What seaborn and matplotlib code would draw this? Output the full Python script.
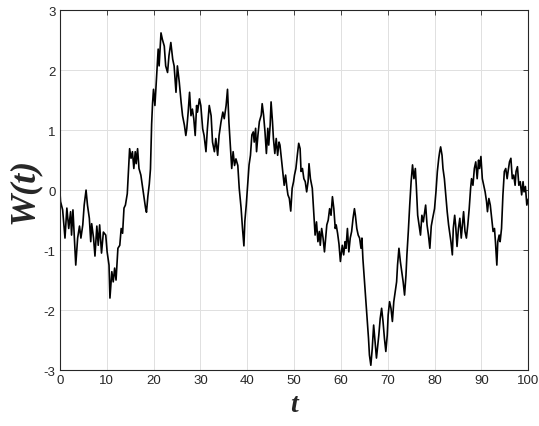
import matplotlib
matplotlib.use("Agg")
import matplotlib.pyplot as plt
import seaborn as sns
import pandas as pd

# Brownian path W(t)
t_vals = [
    0.0, 0.15, 0.6, 1.1, 1.5, 1.9, 2.3, 2.5, 2.8, 3.4, 3.8, 4.2, 4.5, 4.9, 5.2, 5.6, 5.9,
    6.3, 6.6, 6.8, 7.2, 7.5, 7.9, 8.2, 8.5, 8.9, 9.3, 9.8, 10.1, 10.5, 10.7, 11.1, 11.4,
    11.7, 12.0, 12.4, 12.8, 13.1, 13.4, 13.7, 14.0, 14.4, 14.6, 14.9, 15.2, 15.5, 15.8,
    16.1, 16.3, 16.6, 16.9, 17.3, 17.7, 18.0, 18.3, 18.5, 18.8, 19.1, 19.35, 19.6, 19.8,
    20.0, 20.3, 20.7, 21.0, 21.2, 21.6, 21.9, 22.3, 22.6, 23.0, 23.3, 23.7, 24.1, 24.4,
    24.8, 25.1, 25.5, 25.9, 26.2, 26.6, 26.9, 27.1, 27.4, 27.7, 28.0, 28.3, 28.6, 28.9,
    29.2, 29.4, 29.8, 30.1, 30.5, 30.8, 31.2, 31.5, 31.9, 32.3, 32.6, 33.0, 33.3, 33.7,
    34.0, 34.4, 34.8, 35.1, 35.5, 35.8, 36.1, 36.4, 36.7, 37.0, 37.3, 37.6, 38.0, 38.3,
    38.7, 39.0, 39.3, 39.5, 39.8,
    40.1, 40.4, 40.7, 41.0, 41.3, 41.5, 41.8, 42.0, 42.3, 42.6, 43.0, 43.2, 43.5, 43.8,
    44.1, 44.4, 44.6, 44.9, 45.1, 45.4, 45.6, 45.9, 46.2, 46.5, 46.8, 47.0, 47.3, 47.6,
    47.9, 48.2, 48.5, 48.7, 49.0, 49.3, 49.6, 49.9, 50.1, 50.4, 50.7, 51.0, 51.3, 51.5,
    51.8, 52.1, 52.4, 52.7, 53.0, 53.2, 53.5, 53.9, 54.2, 54.5, 54.8, 55.1, 55.4, 55.6,
    55.9, 56.2, 56.5, 56.8, 57.0, 57.3, 57.6, 57.9, 58.2, 58.5, 58.8, 59.0, 59.3, 59.6,
    59.9,
    60.3, 60.6, 60.9, 61.1, 61.4, 61.7, 62.0, 62.3, 62.6, 62.9, 63.1, 63.4, 63.7, 64.0,
    64.3, 64.5, 64.7, 65.0, 65.3, 65.6, 65.9, 66.1, 66.4, 66.7, 67.0, 67.3, 67.6, 67.9,
    68.1, 68.4, 68.7, 69.0, 69.3, 69.6, 69.9, 70.1, 70.4, 70.7, 71.0, 71.3, 71.6, 71.9,
    72.1, 72.4, 72.7, 73.0, 73.3, 73.6, 73.9, 74.1, 74.4, 74.7, 75.0, 75.3, 75.6, 75.9,
    76.1, 76.4, 76.7, 77.0, 77.3, 77.6, 77.9, 78.1, 78.4, 78.7, 79.0, 79.3, 79.6, 80.0,
    80.3, 80.6, 80.9, 81.1, 81.3, 81.6, 81.8, 82.1, 82.4, 82.7, 83.0, 83.3, 83.5, 83.8,
    84.0, 84.3, 84.5, 84.8, 85.1, 85.4, 85.7, 86.0, 86.2, 86.5, 86.8, 87.1, 87.4, 87.7,
    87.9, 88.2, 88.5, 88.8, 89.1, 89.4, 89.6, 89.9, 90.2, 90.5, 90.8, 91.1, 91.3, 91.6,
    91.9, 92.2, 92.5, 92.8, 93.0, 93.3, 93.5, 93.8, 94.0, 94.3, 94.6, 94.9, 95.2, 95.5,
    95.7, 96.0, 96.3, 96.6, 96.9, 97.2, 97.4, 97.7, 98.0, 98.3, 98.6, 98.9, 99.1, 99.4,
    99.7, 100.0,
]
w_vals = [
    0.0, -0.19, -0.33, -0.8, -0.3, -0.64, -0.36, -0.75, -0.33, -1.25, -0.8, -0.6, -0.8,
    -0.58, -0.25, 0.0, -0.25, -0.47, -0.86, -0.56, -0.8, -1.1, -0.6, -0.92, -0.58, -1.05,
    -0.7, -0.75, -1.03, -1.25, -1.8, -1.36, -1.53, -1.3, -1.5, -0.97, -0.92, -0.64, -0.72,
    -0.3, -0.25, -0.06, 0.25, 0.69, 0.53, 0.64, 0.36, 0.64, 0.44, 0.69, 0.36, 0.25, 0.03,
    -0.14, -0.3, -0.37, -0.1, 0.1, 0.35, 1.1, 1.45,
    1.68, 1.41, 1.96, 2.35, 2.07, 2.62, 2.51, 2.4, 2.07, 1.96, 2.24, 2.46, 2.18, 2.07,
    1.63, 2.07, 1.8, 1.46, 1.24, 1.08, 0.91, 1.02, 1.3, 1.63, 1.24, 1.35, 1.19, 0.91,
    1.41, 1.3, 1.52, 1.41, 1.02, 0.91, 0.64, 1.02, 1.41, 1.24, 0.8, 0.64, 0.86, 0.58,
    0.91, 1.13, 1.3, 1.19, 1.41, 1.68, 1.13, 0.75, 0.36, 0.64, 0.41, 0.52, 0.41, 0.03,
    -0.3, -0.64, -0.93, -0.52, -0.25,
    0.08, 0.42, 0.58, 0.92, 0.97, 0.8, 1.03, 0.64, 0.92, 1.14, 1.25, 1.44, 1.25, 0.97,
    0.61, 1.03, 0.75, 1.08, 1.47, 1.14, 0.86, 0.61, 0.86, 0.58, 0.8, 0.75, 0.53, 0.31,
    0.08, 0.25, 0.03, -0.08, -0.14, -0.35, 0.03, 0.14, 0.25, 0.36, 0.58, 0.78, 0.69, 0.31,
    0.36, 0.19, 0.14, -0.03, 0.14, 0.44, 0.19, 0.03, -0.36, -0.75, -0.53, -0.86, -0.69,
    -0.92, -0.64, -0.8, -1.03, -0.75, -0.58, -0.5, -0.31, -0.42, -0.11, -0.31, -0.64,
    -0.58, -0.72, -0.9, -1.19,
    -0.92, -1.08, -0.86, -0.97, -0.64, -1.03, -0.8, -0.69, -0.47, -0.31, -0.42, -0.64,
    -0.75, -0.8, -0.97, -0.8, -1.14, -1.47, -1.8, -2.14, -2.47, -2.75, -2.92, -2.64,
    -2.25, -2.53, -2.8, -2.58, -2.42, -2.14, -1.97, -2.19, -2.47, -2.69, -2.42, -2.08,
    -1.86, -1.97, -2.19, -1.86, -1.69, -1.53, -1.25, -0.97, -1.19, -1.36, -1.53, -1.75,
    -1.42, -1.08, -0.69, -0.25, 0.14, 0.42, 0.19, 0.36, 0.08, -0.42, -0.58, -0.75,
    -0.42, -0.53, -0.36, -0.25, -0.58, -0.75, -0.97, -0.6, -0.47, -0.31,
    -0.03, 0.31, 0.53, 0.64, 0.72, 0.58, 0.36, 0.19, -0.08, -0.36, -0.58, -0.75, -0.86,
    -1.08, -0.64, -0.42, -0.58, -0.94, -0.64, -0.47, -0.8, -0.53, -0.36, -0.69, -0.8,
    -0.58, -0.31, 0.03, 0.19, 0.08, 0.36, 0.47, 0.19, 0.5, 0.36, 0.56, 0.19, 0.08, -0.03,
    -0.19, -0.36, -0.14, -0.25, -0.47, -0.69, -0.64, -0.86, -1.25, -0.86, -0.75, -0.86,
    -0.64, -0.08, 0.31, 0.36, 0.19, 0.31, 0.47, 0.53, 0.19, 0.25, 0.08, 0.31, 0.39, 0.08,
    0.14, -0.08, 0.14, -0.03, 0.06, -0.25, -0.15,
]

x_ticks = [0, 10, 20, 30, 40, 50, 60, 70, 80, 90, 100]
y_ticks = [-3, -2, -1, 0, 1, 2, 3]

df = pd.DataFrame({"t": t_vals, "W": w_vals})

sns.set_theme(style="whitegrid")
plt.rcParams["font.family"] = ["Liberation Sans", "DejaVu Sans"]

fig = plt.figure(figsize=(5.39, 4.27), dpi=100)
ax = fig.add_axes([0.111, 0.131, 0.869, 0.843])

sns.lineplot(data=df, x="t", y="W", ax=ax, color="black", linewidth=1.2,
             estimator=None, sort=False)

ax.set_xlim(0, 100)
ax.set_ylim(-3, 3)
ax.set_xticks(x_ticks)
ax.set_yticks(y_ticks)
ax.set_xticklabels([str(v) for v in x_ticks])
ax.set_yticklabels([str(v) for v in y_ticks])

ax.grid(True, color="#e0e0e0", linewidth=0.7)
for s in ax.spines.values():
    s.set_visible(True)
    s.set_color("#262626")
    s.set_linewidth(0.8)
ax.tick_params(axis="both", direction="in", length=3.5, width=0.6,
               top=True, right=True, colors="#262626", labelsize=9.5,
               labelcolor="#262626", pad=3)
ax.set_facecolor("white")

ax.set_xlabel("t", family="Liberation Serif", fontweight="bold", style="italic",
              fontsize=20, labelpad=4)
ax.set_ylabel("W(t)", family="Liberation Serif", fontweight="bold", style="italic",
              fontsize=26, labelpad=2)

fig.savefig("out.png", dpi=100, facecolor="white")
